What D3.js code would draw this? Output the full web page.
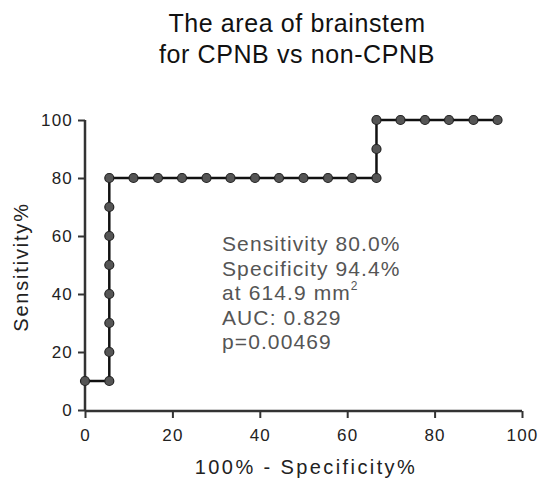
<!DOCTYPE html>
<html><head><meta charset="utf-8">
<script src="https://cdn.jsdelivr.net/npm/d3@7"></script>
<style>body{margin:0;background:#fff}svg{display:block}text{font-family:"Liberation Sans",Arial,sans-serif}</style>
</head><body>
<svg id="c" width="540" height="481"></svg>
<script>
const fpr = [0, 5.56, 5.56, 5.56, 5.56, 5.56, 5.56, 5.56, 5.56, 11.1, 16.7, 22.2, 27.8, 33.3, 38.9, 44.4, 50.0, 55.6, 61.1, 66.7, 66.7, 66.7, 72.2, 77.8, 83.3, 88.9, 94.4];
const sens = [10, 10, 20, 30, 40, 50, 60, 70, 80, 80, 80, 80, 80, 80, 80, 80, 80, 80, 80, 80, 90, 100, 100, 100, 100, 100, 100];
const xTicks = [0, 20, 40, 60, 80, 100];
const yTicks = [0, 20, 40, 60, 80, 100];
const titleLines = ["The area of brainstem", "for CPNB vs non-CPNB"];
const annot = ["Sensitivity 80.0%", "Specificity 94.4%", "at 614.9 mm", "AUC: 0.829", "p=0.00469"];

const svg = d3.select("#c");
const x = d3.scaleLinear().domain([0, 100]).range([85, 522]);
const y = d3.scaleLinear().domain([0, 100]).range([410, 120]);

// title
svg.selectAll(".title").data(titleLines).enter().append("text")
  .attr("x", 297).attr("y", (d, i) => 32 + i * 31)
  .attr("text-anchor", "middle").attr("font-size", 25).attr("letter-spacing", 0.6).attr("fill", "#111")
  .text(d => d);

// axes
const xa = svg.append("g").attr("transform", "translate(0,411)")
  .call(d3.axisBottom(x).tickValues(xTicks).tickSize(7).tickPadding(11).tickFormat(d3.format("d")));
const ya = svg.append("g").attr("transform", "translate(85,0)")
  .call(d3.axisLeft(y).tickValues(yTicks).tickSize(7).tickPadding(5).tickFormat(d3.format("d")));
[xa, ya].forEach(g => {
  g.select(".domain").attr("stroke", "#333").attr("stroke-width", 2.5);
  g.selectAll(".tick line").attr("stroke", "#333").attr("stroke-width", 2);
  g.selectAll(".tick text").attr("font-size", 17).attr("letter-spacing", 1.2).attr("fill", "#222")
    .style("font-family", '"Liberation Sans",Arial,sans-serif');
});
xa.select(".domain").attr("d", "M85,0H522");
ya.select(".domain").attr("d", "M0,120V411");

// axis labels
svg.append("text").attr("x", 306).attr("y", 474).attr("text-anchor", "middle")
  .attr("font-size", 20).attr("letter-spacing", 2.4).attr("fill", "#222").text("100% - Specificity%");
svg.append("text").attr("transform", "translate(28,267) rotate(-90)").attr("text-anchor", "middle")
  .attr("font-size", 20).attr("letter-spacing", 1.8).attr("fill", "#222").text("Sensitivity%");

// line
const pts = fpr.map((f, i) => [f, sens[i]]);
svg.append("path").datum(pts)
  .attr("d", d3.line().x(d => x(d[0])).y(d => y(d[1])))
  .attr("fill", "none").attr("stroke", "#111").attr("stroke-width", 2.5);
svg.selectAll(".pt").data(pts).enter().append("circle")
  .attr("cx", d => x(d[0])).attr("cy", d => y(d[1])).attr("r", 4.5)
  .attr("fill", "#555").attr("stroke", "#222").attr("stroke-width", 1.2);

// annotation
const at = svg.append("g");
annot.forEach((t, i) => {
  const tx = at.append("text").attr("x", 222).attr("y", 251 + i * 24.5)
    .attr("font-size", 21).attr("letter-spacing", 1.1).attr("fill", "#555").text(t);
  if (i === 2) tx.append("tspan").attr("dy", -10).attr("font-size", 12).text("2");
});
</script>
</body></html>
